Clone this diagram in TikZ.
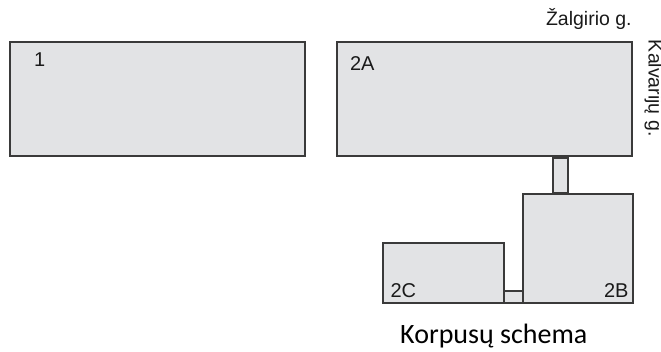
\documentclass[tikz,border=0pt]{standalone}
\usepackage{fontspec}
\setmainfont{Liberation Sans}
\newfontfamily\calib{Carlito}
\definecolor{boxfill}{HTML}{E2E3E5}
\definecolor{boxline}{HTML}{3A3A3A}
\definecolor{txt}{HTML}{1A1A1A}
\begin{document}
\begin{tikzpicture}[x=1pt,y=-1pt,
  box/.style={draw=boxline,fill=boxfill,line width=1.4pt,anchor=north west,inner sep=0pt,outer sep=0pt},
  lbl/.style={inner sep=0pt,outer sep=0pt,text=txt,font=\fontsize{20}{24}\selectfont},
  street/.style={inner sep=0pt,outer sep=0pt,text=txt,font=\fontsize{19.5}{22}\selectfont}]
\useasboundingbox (0,0) rectangle (661,352);
\node[box,minimum width=295pt,minimum height=114pt] (b1) at (10,42) {};
\node[box,minimum width=295pt,minimum height=114pt] (b2A) at (337,42) {};
\node[box,minimum width=15pt,minimum height=35pt] (l1) at (553,158) {};
\node[box,minimum width=110pt,minimum height=109pt] (b2B) at (523,194) {};
\node[box,minimum width=121pt,minimum height=60pt] (b2C) at (383,243) {};
\node[box,minimum width=19pt,minimum height=12pt] (l2) at (504,291) {};
\node[lbl,anchor=base west] (t1) at (34,67) {1};
\node[lbl,anchor=base west] (t2A) at (350,70.5) {2A};
\node[lbl,anchor=base west] (t2C) at (390.5,297.3) {2C};
\node[lbl,anchor=base east] (t2B) at (628.5,297.3) {2B};
\node[street,anchor=base west] (zal) at (546,25.7) {Žalgirio g.};
\node[street,anchor=base west,rotate=-90] (kal) at (648.5,40) {Kalvarijų g.};
\node[inner sep=0pt,text=black,font=\calib\fontsize{28}{32}\selectfont,anchor=base west] (cap) at (400,343.5) {Korpusų schema};
\end{tikzpicture}
\end{document}
